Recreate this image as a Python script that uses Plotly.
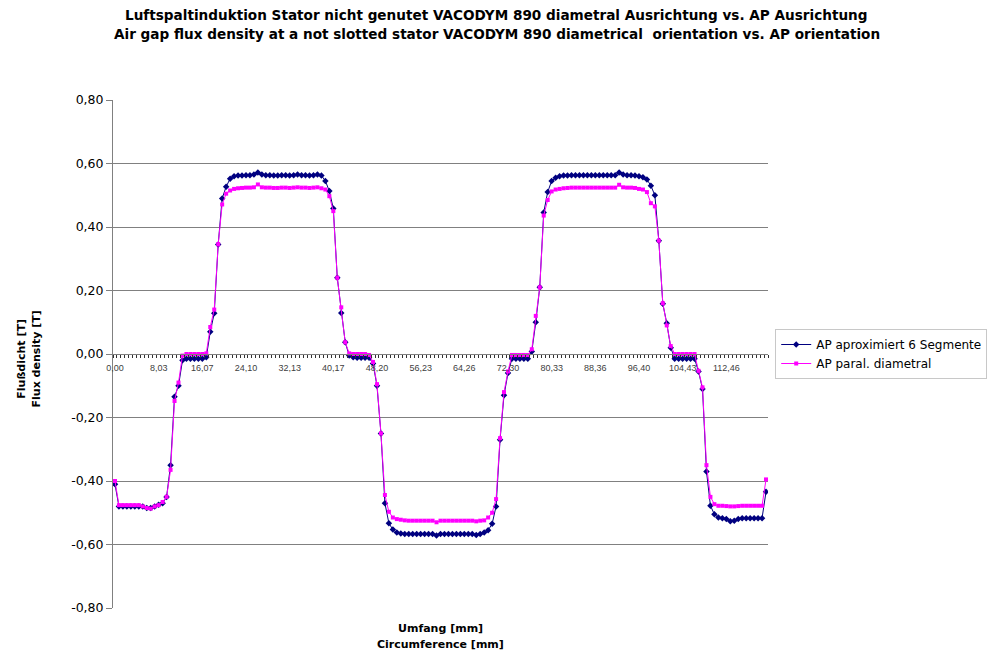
import plotly.graph_objects as go

# ---------------- data ----------------
STEP_MM = 0.73028          # spacing of the samples along the circumference
N_POINTS = 165
umfang_mm = [round(i * STEP_MM, 4) for i in range(N_POINTS)]

ap_aproximiert_6_segmente = [
    -0.41,
    -0.48, -0.48, -0.48, -0.48, -0.48, -0.48, -0.48, -0.485, -0.485, -0.48, -0.475, -0.47,
    -0.45, -0.35, -0.135, -0.10,
    -0.02, -0.015, -0.015, -0.015, -0.015, -0.015, -0.01,
    0.07, 0.128, 0.345, 0.49, 0.527, 0.552,
    0.56, 0.562, 0.562, 0.563, 0.563, 0.565, 0.572, 0.565, 0.563, 0.563, 0.562,
    0.562, 0.563, 0.563, 0.562, 0.563, 0.565, 0.563, 0.563, 0.562, 0.563, 0.565,
    0.562, 0.545, 0.513, 0.458, 0.24, 0.129, 0.037,
    -0.005, -0.01, -0.012, -0.012, -0.012, -0.012,
    -0.03, -0.10, -0.25, -0.47, -0.533, -0.553,
    -0.562, -0.565, -0.567, -0.567, -0.567, -0.567, -0.567, -0.567, -0.567, -0.567, -0.572, -0.567,
    -0.567, -0.567, -0.567, -0.567, -0.567, -0.567, -0.567, -0.567, -0.57, -0.567, -0.562,
    -0.555, -0.535, -0.48, -0.27, -0.13, -0.06,
    -0.015, -0.015, -0.015, -0.015, -0.015, 0.008,
    0.10, 0.21, 0.446, 0.51, 0.545,
    0.555, 0.56, 0.562, 0.562, 0.563, 0.563, 0.563, 0.563, 0.563, 0.563, 0.563, 0.563,
    0.563, 0.563, 0.563, 0.563, 0.572, 0.565, 0.563, 0.563, 0.562, 0.56, 0.557,
    0.55, 0.53, 0.50, 0.357, 0.158, 0.097, 0.02,
    -0.015, -0.015, -0.015, -0.015, -0.015, -0.015,
    -0.055, -0.11, -0.37, -0.478, -0.505,
    -0.515, -0.517, -0.52, -0.527, -0.525, -0.52, -0.517, -0.517, -0.517, -0.517, -0.517, -0.517,
    -0.434,
]

ap_paral_diametral = [
    -0.40,
    -0.476, -0.476, -0.476, -0.476, -0.476, -0.476, -0.48, -0.485, -0.487, -0.48, -0.476, -0.466,
    -0.45, -0.365, -0.148, -0.09,
    -0.005, 0.0, 0.0, 0.0, 0.0, 0.0, 0.002,
    0.085, 0.14, 0.346, 0.471, 0.505, 0.515,
    0.52, 0.522, 0.523, 0.524, 0.524, 0.525, 0.534, 0.525, 0.524, 0.524, 0.523,
    0.523, 0.524, 0.524, 0.523, 0.524, 0.525, 0.524, 0.524, 0.523, 0.524, 0.525,
    0.522, 0.518, 0.497, 0.45, 0.24, 0.147, 0.037,
    0.002, 0.0, 0.0, 0.0, 0.0, -0.003,
    -0.025, -0.095, -0.25, -0.444, -0.497, -0.515,
    -0.52, -0.522, -0.524, -0.525, -0.525, -0.525, -0.525, -0.525, -0.525, -0.525, -0.53, -0.525,
    -0.525, -0.525, -0.525, -0.525, -0.525, -0.525, -0.525, -0.525, -0.527, -0.525, -0.524,
    -0.515, -0.50, -0.457, -0.265, -0.12, -0.055,
    -0.003, -0.003, -0.003, -0.003, -0.003, 0.015,
    0.12, 0.21, 0.436, 0.485, 0.512,
    0.518, 0.52, 0.522, 0.523, 0.524, 0.524, 0.524, 0.524, 0.524, 0.524, 0.524, 0.524,
    0.524, 0.524, 0.524, 0.524, 0.533, 0.525, 0.524, 0.524, 0.523, 0.52, 0.518,
    0.51, 0.475, 0.465, 0.357, 0.16, 0.09, 0.025,
    0.0, 0.0, 0.0, 0.0, 0.0, 0.0,
    -0.053, -0.105, -0.35, -0.45, -0.473,
    -0.478, -0.478, -0.479, -0.48, -0.48, -0.479, -0.478, -0.478, -0.478, -0.478, -0.478, -0.478,
    -0.395,
]

x_tick_labels = ["0,00", "8,03", "16,07", "24,10", "32,13", "40,17", "48,20", "56,23",
                 "64,26", "72,30", "80,33", "88,36", "96,40", "104,43", "112,46"]
x_label_every = 11
y_tick_values = [0.8, 0.6, 0.4, 0.2, 0.0, -0.2, -0.4, -0.6, -0.8]
y_tick_labels = ["0,80", "0,60", "0,40", "0,20", "0,00", "-0,20", "-0,40", "-0,60", "-0,80"]

series_names = ["AP aproximiert 6 Segmente", "AP paral. diametral"]
title_lines = [
    "Luftspaltinduktion Stator nicht genutet VACODYM 890 diametral Ausrichtung vs. AP Ausrichtung",
    "Air gap flux density at a not slotted stator VACODYM 890 diametrical  orientation vs. AP orientation",
]
x_title_lines = ["Umfang [mm]", "Circumference [mm]"]
y_title_lines = ["Flußdicht [T]", "Flux density [T]"]

assert len(ap_aproximiert_6_segmente) == N_POINTS, len(ap_aproximiert_6_segmente)
assert len(ap_paral_diametral) == N_POINTS, len(ap_paral_diametral)

# ---------------- figure ----------------
FONT = "Liberation Sans, Arial, sans-serif"
WIDE = "DejaVu Sans, Verdana, sans-serif"
fig = go.Figure()
fig.add_trace(go.Scatter(
    x=umfang_mm, y=ap_aproximiert_6_segmente, name=series_names[0],
    mode="lines+markers",
    line=dict(color="#000080", width=1),
    marker=dict(symbol="diamond", size=5, color="#000080"),
))
fig.add_trace(go.Scatter(
    x=umfang_mm, y=ap_paral_diametral, name=series_names[1],
    mode="lines+markers",
    line=dict(color="#FF00FF", width=1),
    marker=dict(symbol="square", size=4, color="#FF00FF"),
))

# plot area: x 113..768 px, y 100..608 px
annotations = [
    dict(text="<b>%s</b>" % title_lines[0], xref="paper", yref="paper",
         x=0.586, y=1.167, xanchor="center", yanchor="middle", showarrow=False,
         font=dict(size=13.6, family=WIDE, color="#000000")),
    dict(text="<b>%s</b>" % title_lines[1], xref="paper", yref="paper",
         x=0.586, y=1.130, xanchor="center", yanchor="middle", showarrow=False,
         font=dict(size=13.6, family=WIDE, color="#000000")),
    dict(text="<b>%s</b>" % x_title_lines[0], xref="paper", yref="paper",
         x=0.5, y=-0.0394, xanchor="center", yanchor="middle", showarrow=False,
         font=dict(size=11, family=WIDE, color="#000000")),
    dict(text="<b>%s</b>" % x_title_lines[1], xref="paper", yref="paper",
         x=0.5, y=-0.0728, xanchor="center", yanchor="middle", showarrow=False,
         font=dict(size=11, family=WIDE, color="#000000")),
    dict(text="<b>%s</b>" % y_title_lines[0], xref="paper", yref="paper",
         x=-0.141, y=0.49, xanchor="center", yanchor="middle", showarrow=False,
         textangle=-90, font=dict(size=11, family=WIDE, color="#000000")),
    dict(text="<b>%s</b>" % y_title_lines[1], xref="paper", yref="paper",
         x=-0.117, y=0.49, xanchor="center", yanchor="middle", showarrow=False,
         textangle=-90, font=dict(size=11, family=WIDE, color="#000000")),
]

fig.update_layout(
    width=994, height=653,
    margin=dict(l=113, r=226, t=100, b=45, autoexpand=False),
    paper_bgcolor="white", plot_bgcolor="white",
    font=dict(family=FONT, color="#000000"),
    showlegend=True,
    legend=dict(
        x=1.011, y=0.5, xanchor="left", yanchor="middle",
        bordercolor="#c8c8c8", borderwidth=1,
        font=dict(size=12, family=WIDE, color="#000000"),
        tracegroupgap=0, itemwidth=30,
    ),
    xaxis=dict(
        range=[-0.5 * STEP_MM, (N_POINTS - 0.5) * STEP_MM],
        anchor="free", position=0.5,
        showline=True, linecolor="#808080", linewidth=1,
        showgrid=False, zeroline=False,
        tickmode="array",
        tickvals=umfang_mm[::x_label_every][:len(x_tick_labels)],
        ticktext=x_tick_labels,
        ticks="",
        ticklabelstandoff=5,
        tickfont=dict(size=9, family=FONT, color="#404040"),
        minor=dict(ticks="outside", ticklen=3, tickcolor="#303030", tickwidth=1,
                   tickmode="linear", tick0=-0.5 * STEP_MM, dtick=STEP_MM, showgrid=False),
    ),
    yaxis=dict(
        range=[-0.8, 0.8],
        tickmode="array", tickvals=y_tick_values, ticktext=y_tick_labels,
        ticks="outside", ticklen=6, tickcolor="#808080",
        showline=True, linecolor="#808080", linewidth=1,
        showgrid=True, gridcolor="#808080", gridwidth=1,
        zeroline=False,
        tickfont=dict(size=12.5, family=WIDE, color="#000000"),
    ),
    annotations=annotations,
)

fig.write_html("out.html")
